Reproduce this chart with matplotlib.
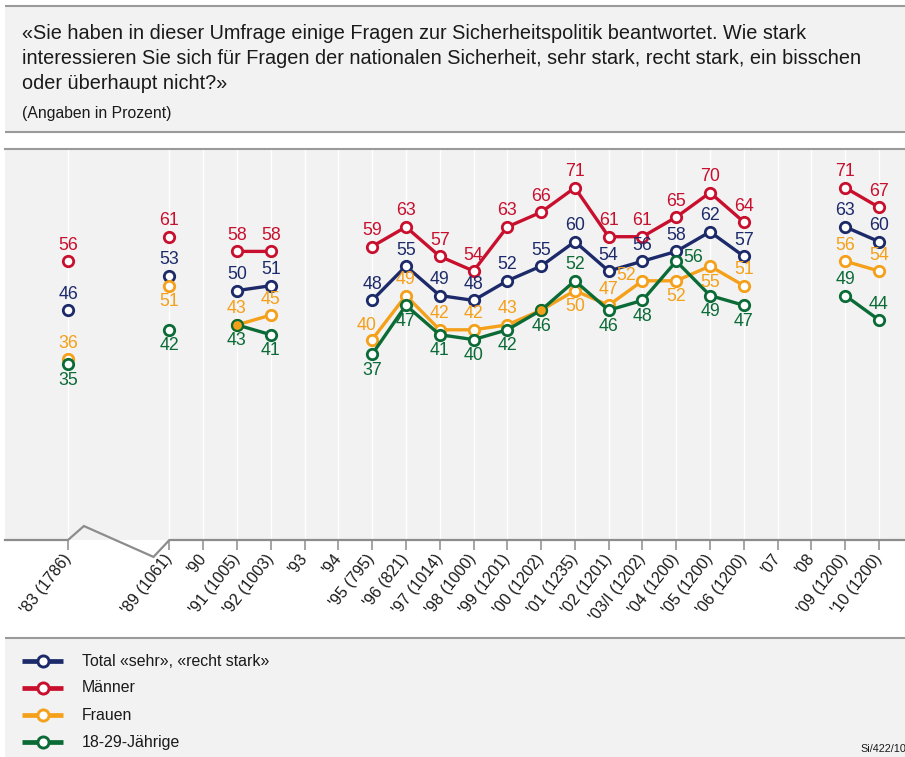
import numpy as np
import matplotlib
matplotlib.use("Agg")
import matplotlib.pyplot as plt
import matplotlib.transforms as mtransforms

plt.rcParams['font.family'] = ['Liberation Sans', 'DejaVu Sans']

# ---------------- data ----------------
x_labels = ["'83 (1786)", "'89 (1061)", "'90", "'91 (1005)", "'92 (1003)", "'93", "'94",
            "'95 (795)", "'96 (821)", "'97 (1014)", "'98 (1000)", "'99 (1201)", "'00 (1202)",
            "'01 (1235)", "'02 (1201)", "'03/I (1202)", "'04 (1200)", "'05 (1200)", "'06 (1200)",
            "'07", "'08", "'09 (1200)", "'10 (1200)"]
# slot index on the axis (a broken gap of two slots between '83 and '89)
x_pos = [0, 3, 4, 5, 6, 7, 8, 9, 10, 11, 12, 13, 14, 15, 16, 17, 18, 19, 20, 21, 22, 23, 24]

N = np.nan
total   = [46, 53, N, 50, 51, N, N, 48, 55, 49, 48, 52, 55, 60, 54, 56, 58, 62, 57, N, N, 63, 60]
maenner = [56, 61, N, 58, 58, N, N, 59, 63, 57, 54, 63, 66, 71, 61, 61, 65, 70, 64, N, N, 71, 67]
frauen  = [36, 51, N, 43, 45, N, N, 40, 49, 42, 42, 43, 46, 50, 47, 52, 52, 55, 51, N, N, 56, 54]
jung    = [35, 42, N, 43, 41, N, N, 37, 47, 41, 40, 42, 46, 52, 46, 48, 56, 49, 47, N, N, 49, 44]

series_names = ['Total «sehr», «recht stark»', 'Männer', 'Frauen', '18-29-Jährige']
series_vals = [total, maenner, frauen, jung]
colors = ['#1c2a6a', '#c8102e', '#f5a01a', '#0b6b36']

# label placement per point: a=above, b=below, r=right, l=left, al=above-left, n=none
lab_total   = ['a'] * 23
lab_maenner = ['a'] * 23
lab_frauen  = ['a', 'b', 'n', 'a', 'a', 'n', 'n', 'al', 'a', 'a', 'a', 'a', 'n', 'b', 'a', 'l', 'b', 'b', 'a', 'n', 'n', 'a', 'a']
lab_jung    = ['b', 'b', 'n', 'b', 'b', 'n', 'n', 'b', 'b', 'b', 'b', 'b', 'b', 'a', 'b', 'b', 'r', 'b', 'b', 'n', 'n', 'a', 'a']
label_modes = [lab_total, lab_maenner, lab_frauen, lab_jung]

offsets = {'a': (0, 11.5), 'b': (0, -11.5), 'r': (12, 3), 'l': (-12, 4), 'al': (-4, 10.5)}

# ---------------- figure ----------------
W, H = 905, 757
fig = plt.figure(figsize=(W / 100, H / 100), dpi=100)
fig.patch.set_facecolor('white')

bg = fig.add_axes([0, 0, 1, 1], zorder=0)
bg.set_xlim(0, W)
bg.set_ylim(H, 0)
bg.axis('off')
gray_bg = '#f2f2f2'
border = '#9a9a9a'
bg.add_patch(plt.Rectangle((5, 6), W - 5, 126, facecolor=gray_bg, edgecolor='none'))
bg.plot([5, W], [6, 6], color=border, lw=1.5, solid_capstyle='butt')
bg.plot([5, W], [132, 132], color=border, lw=1.5, solid_capstyle='butt')
bg.add_patch(plt.Rectangle((5, 638), W - 5, H - 638, facecolor=gray_bg, edgecolor='none'))
bg.plot([5, W], [638, 638], color=border, lw=1.5, solid_capstyle='butt')

title_lines = ["«Sie haben in dieser Umfrage einige Fragen zur Sicherheitspolitik beantwortet. Wie stark",
               "interessieren Sie sich für Fragen der nationalen Sicherheit, sehr stark, recht stark, ein bisschen",
               "oder überhaupt nicht?»"]
for k, line in enumerate(title_lines):
    bg.text(22, 39 + 25 * k, line, fontsize=14.3, color='#1a1a1a', va='baseline', ha='left')
bg.text(22, 118, "(Angaben in Prozent)", fontsize=11.3, color='#1a1a1a', va='baseline', ha='left')

leg_y = [661, 688, 715, 742]
for name, col, yy in zip(series_names, colors, leg_y):
    bg.plot([22, 63], [yy, yy], color=col, lw=3.4, solid_capstyle='butt')
    bg.plot([42.5], [yy], marker='o', ms=8, mfc='white', mec=col, mew=2.1)
    bg.text(82, yy, name, fontsize=11.4, color='#1a1a1a', va='center', ha='left')
bg.text(860, 752, "Si/422/10", fontsize=7.8, color='#1a1a1a', va='baseline', ha='left')

# ---------------- main plot ----------------
ax = fig.add_axes([5 / W, (H - 540) / H, (W - 5) / W, (540 - 149) / H], zorder=1)
ax.set_facecolor(gray_bg)
px_per_unit_x = 33.79
x0_px = 68 - 5
ax.set_xlim(-x0_px / px_per_unit_x, 24 + (W - 879) / px_per_unit_x)
ax.set_ylim(-0.9, 78.9)

for s in ['left', 'right', 'bottom']:
    ax.spines[s].set_visible(False)
ax.spines['top'].set_color(border)
ax.spines['top'].set_linewidth(1.5)

ax.set_yticks([])
ax.set_xticks(x_pos)
ax.set_xticklabels(x_labels, rotation=52, ha='right', va='center', rotation_mode='anchor',
                   fontsize=11.5, color='#1a1a1a')
shift = mtransforms.ScaledTranslation(7 / 100, -4 / 100, fig.dpi_scale_trans)
for lbl in ax.get_xticklabels():
    lbl.set_transform(lbl.get_transform() + shift)
ax.tick_params(axis='x', direction='out', length=7.5, width=1.1, color='#8c8c8c', pad=4)
ax.xaxis.grid(True, color='white', lw=1.0)
ax.set_axisbelow(True)

# baseline with break between '83 and '89
xl = ax.get_xlim()
yb = ax.get_ylim()[0]
a, b = x_pos[0], x_pos[1]
bx = [xl[0], a, a + 0.47, b - 0.47, b, xl[1]]
by = [yb, yb, yb + 2.85, yb - 3.45, yb, yb]
ax.plot(bx, by, color='#8c8c8c', lw=1.6, clip_on=False, zorder=3, solid_joinstyle='miter')

xp = np.array(x_pos, dtype=float)
breaks = np.where(np.diff(xp) > 1)[0] + 1
runs = np.split(np.arange(len(xp)), breaks)

for i, (vals, col, modes) in enumerate(zip(series_vals, colors, label_modes)):
    v = np.array(vals, dtype=float)
    for r in runs:
        ax.plot(xp[r], v[r], color=col, lw=2.4, marker='o', ms=7.5, mfc='white', mec=col,
                mew=2.0, zorder=4 + i, clip_on=False)
    for xi, vi, m in zip(xp, v, modes):
        if np.isnan(vi) or m == 'n':
            continue
        dx, dy = offsets[m]
        ax.annotate(f"{int(vi)}", (xi, vi), xytext=(dx, dy), textcoords='offset points',
                    ha='center', va='center', fontsize=12.8, color=col, zorder=10)

fr = np.array(frauen, dtype=float)
jg = np.array(jung, dtype=float)
same = (fr == jg)
ax.plot(xp[same], fr[same], ls='none', marker='o', ms=7.5, mfc=colors[2], mec=colors[3],
        mew=1.2, zorder=9)

fig.savefig('out.png', dpi=100)
